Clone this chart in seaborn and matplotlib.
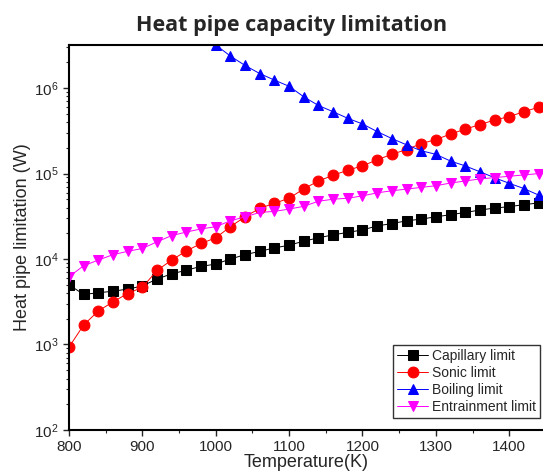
import numpy as np
import pandas as pd
import matplotlib
matplotlib.use("Agg")
import matplotlib.pyplot as plt
import seaborn as sns
from matplotlib.ticker import MultipleLocator, LogLocator

sns.set_style("ticks")
plt.rcParams['font.family'] = ['Liberation Sans', 'DejaVu Sans']

temps = np.arange(800, 1441, 20)

capillary = [5000, 3850, 4030, 4200, 4450, 4830, 5850, 6700, 7410, 8200, 8730,
             10000, 11250, 12300, 13500, 14500, 16200, 17700, 19200, 20500, 21900,
             24400, 26000, 28000, 29300, 31200, 33000, 35100, 37400, 39500, 41000,
             43300, 45300]
sonic = [930, 1690, 2470, 3150, 3950, 4660, 7350, 9730, 12450, 15200, 17700,
         23900, 31200, 39200, 44900, 51400, 66300, 81900, 95500, 109600, 123000,
         145000, 168000, 191000, 224000, 250000, 290000, 331000, 374000, 423000,
         464000, 530000, 597000]
boiling = [np.nan] * 10 + [3.2e6, 2.37e6, 1.84e6, 1.48e6, 1.24e6, 1.05e6, 791000,
                           626000, 529000, 443000, 381000, 310000, 257000, 217000,
                           185000, 168000, 140000, 123000, 105000, 89400, 76900,
                           66800, 56000]
entrainment = [6200, 8340, 9730, 11250, 12300, 13300, 15900, 18800, 20700, 22500,
               23900, 28000, 31200, 35100, 36100, 38400, 41400, 47500, 50100, 51500,
               54800, 59500, 62900, 65800, 68900, 72100, 77500, 81900, 86500, 89700,
               93000, 96400, 100000]

series = [
    ("Capillary limit", capillary, "black", "s"),
    ("Sonic limit", sonic, "red", "o"),
    ("Boiling limit", boiling, "blue", "^"),
    ("Entrainment limit", entrainment, "magenta", "v"),
]

fig = plt.figure(figsize=(5.43, 4.73), dpi=100)
ax = fig.add_axes([0.127, 0.091, 0.873, 0.814])

for name, vals, col, mk in series:
    df = pd.DataFrame({"T": temps, "Q": vals}).dropna()
    sns.lineplot(data=df, x="T", y="Q", ax=ax, color=col, marker=mk,
                 markersize=7.8, markeredgecolor=col, linewidth=0.7,
                 label=name)

ax.set_yscale("log")
ax.set_xlim(800, 1446)
ax.set_ylim(100, 3.2e6)
ax.xaxis.set_major_locator(MultipleLocator(100))
ax.xaxis.set_minor_locator(MultipleLocator(50))
ax.yaxis.set_major_locator(LogLocator(base=10))
ax.yaxis.set_minor_locator(LogLocator(base=10, subs=np.arange(2, 10)))
ax.tick_params(axis="both", which="major", direction="out", length=4, width=1,
               labelsize=11)
ax.tick_params(axis="both", which="minor", direction="out", length=2.5, width=0.8)
ax.spines["right"].set_visible(False)
for s in ["left", "bottom", "top"]:
    ax.spines[s].set_linewidth(1.5)
    ax.spines[s].set_color("black")

ax.set_xlabel("Temperature(K)", fontsize=13, labelpad=0)
ax.set_ylabel("Heat pipe limitation (W)", fontsize=13, labelpad=2)
ax.set_title("Heat pipe capacity limitation", fontsize=15.5, fontweight="bold",
             family=["Open Sans", "DejaVu Sans"], pad=10, x=0.47)

leg = ax.legend(loc="lower right", bbox_to_anchor=(0.994, 0.03), fontsize=10,
                frameon=True, fancybox=False, edgecolor="black", borderpad=0.3,
                labelspacing=0.22, handlelength=2.2, handletextpad=0.3,
                borderaxespad=0)
leg.get_frame().set_linewidth(1.0)

fig.savefig("out.png", dpi=100)
